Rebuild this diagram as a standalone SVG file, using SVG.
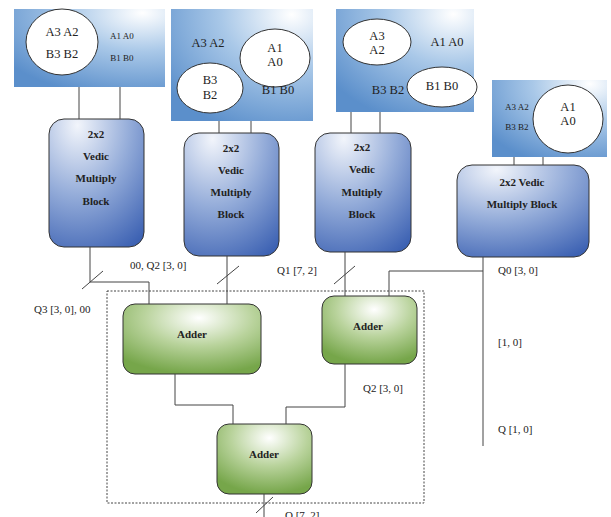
<svg xmlns="http://www.w3.org/2000/svg" width="611" height="517" viewBox="0 0 611 517">
  <defs>
    <radialGradient id="panelFill" cx="0.85" cy="0.05" r="1.1">
      <stop offset="0" stop-color="#ffffff"/>
      <stop offset="0.45" stop-color="#a9c8e8"/>
      <stop offset="1" stop-color="#5b8fcb"/>
    </radialGradient>
    <radialGradient id="blockFill" cx="0.3" cy="0.05" r="1.1">
      <stop offset="0" stop-color="#f2f5fb"/>
      <stop offset="0.5" stop-color="#94acd9"/>
      <stop offset="1" stop-color="#3d62b3"/>
    </radialGradient>
    <radialGradient id="adderFill" cx="0.55" cy="0.2" r="0.8">
      <stop offset="0" stop-color="#ffffff"/>
      <stop offset="0.5" stop-color="#b9d39c"/>
      <stop offset="1" stop-color="#76a64a"/>
    </radialGradient>
  </defs>
  <style>
    .panel { fill: url(#panelFill); }
    .oval { fill: #ffffff; stroke: #333333; stroke-width: 1; }
    .block { fill: url(#blockFill); stroke: #333333; stroke-width: 1; }
    .adder { fill: url(#adderFill); stroke: #333333; stroke-width: 1; }
    .wire { fill: none; stroke: #444444; stroke-width: 1; }
    .frame { fill: none; stroke: #444444; stroke-width: 1; stroke-dasharray: 2 1.5; }
    text { font-family: "Liberation Serif", "Times New Roman", serif; fill: #222222; text-anchor: middle; }
    .big { font-size: 12.5px; }
    .small { font-size: 9px; }
    .bold { font-size: 11px; font-weight: bold; }
    .lbl { font-size: 11px; text-anchor: start; }
  </style>

  <!-- input panels -->
  <g id="panel1">
    <rect class="panel" x="14" y="9" width="151" height="78"/>
    <ellipse class="oval" cx="62" cy="42" rx="36" ry="33"/>
    <text class="big" x="62" y="36">A3 A2</text>
    <text class="big" x="62" y="58">B3 B2</text>
    <text class="small" x="122" y="39">A1 A0</text>
    <text class="small" x="122" y="61">B1 B0</text>
  </g>
  <g id="panel2">
    <rect class="panel" x="171" y="9" width="142" height="112"/>
    <text class="big" x="208" y="47">A3 A2</text>
    <ellipse class="oval" cx="275" cy="58" rx="35" ry="29"/>
    <text class="big" x="275" y="52">A1</text>
    <text class="big" x="275" y="66">A0</text>
    <ellipse class="oval" cx="210" cy="88" rx="33" ry="25"/>
    <text class="big" x="210" y="84">B3</text>
    <text class="big" x="210" y="99">B2</text>
    <text class="big" x="278" y="94">B1 B0</text>
  </g>
  <g id="panel3">
    <rect class="panel" x="336" y="9" width="138" height="103"/>
    <ellipse class="oval" cx="377" cy="42" rx="34" ry="23"/>
    <text class="big" x="377" y="40">A3</text>
    <text class="big" x="377" y="54">A2</text>
    <text class="big" x="447" y="46">A1 A0</text>
    <ellipse class="oval" cx="442" cy="87" rx="35" ry="20"/>
    <text class="big" x="442" y="90">B1 B0</text>
    <text class="big" x="388" y="94">B3 B2</text>
  </g>
  <g id="panel4">
    <rect class="panel" x="492" y="80" width="115" height="77"/>
    <ellipse class="oval" cx="568" cy="119" rx="35" ry="34"/>
    <text class="big" x="568" y="111">A1</text>
    <text class="big" x="568" y="125">A0</text>
    <text class="small" x="517" y="110">A3 A2</text>
    <text class="small" x="517" y="130">B3 B2</text>
  </g>

  <!-- multiplier blocks -->
  <g id="mult1">
    <rect class="block" x="49" y="119" width="95" height="128" rx="15"/>
    <text class="bold" x="96" y="138">2x2</text>
    <text class="bold" x="96" y="160">Vedic</text>
    <text class="bold" x="96" y="182">Multiply</text>
    <text class="bold" x="96" y="205">Block</text>
  </g>
  <g id="mult2">
    <rect class="block" x="184" y="133" width="95" height="123" rx="15"/>
    <text class="bold" x="231" y="152">2x2</text>
    <text class="bold" x="231" y="174">Vedic</text>
    <text class="bold" x="231" y="196">Multiply</text>
    <text class="bold" x="231" y="218">Block</text>
  </g>
  <g id="mult3">
    <rect class="block" x="315" y="133" width="96" height="119" rx="15"/>
    <text class="bold" x="362" y="151">2x2</text>
    <text class="bold" x="362" y="173">Vedic</text>
    <text class="bold" x="362" y="196">Multiply</text>
    <text class="bold" x="362" y="218">Block</text>
  </g>
  <g id="mult4">
    <rect class="block" x="457" y="165" width="132" height="92" rx="15"/>
    <text class="bold" x="522" y="186">2x2 Vedic</text>
    <text class="bold" x="522" y="208">Multiply Block</text>
  </g>

  <!-- adders -->
  <g id="adder1">
    <rect class="adder" x="123" y="304" width="138" height="70" rx="12"/>
    <text class="bold" x="192" y="338">Adder</text>
  </g>
  <g id="adder2">
    <rect class="adder" x="322" y="296" width="95" height="68" rx="12"/>
    <text class="bold" x="368" y="330">Adder</text>
  </g>
  <g id="adder3">
    <rect class="adder" x="217" y="424" width="95" height="70" rx="12"/>
    <text class="bold" x="264" y="458">Adder</text>
  </g>

  <!-- connectors -->
  <g id="connectors">
    <rect class="frame" x="107" y="291" width="317" height="212"/>
    <path class="wire" d="M79 87V119 M120 87V119"/>
    <path class="wire" d="M219 121V133 M251 121V133"/>
    <path class="wire" d="M351 112V133 M380 112V133"/>
    <path class="wire" d="M514 157V165 M543 157V165"/>
    <path class="wire" d="M90 247V282H149V304 M82 289L103 271"/>
    <path class="wire" d="M227 256V304 M217 284L239 266"/>
    <path class="wire" d="M345 252V296 M334 284L355 266"/>
    <path class="wire" d="M483 257V446 M483 271H389V296"/>
    <path class="wire" d="M175 374V405H233V424"/>
    <path class="wire" d="M345 364V407H286V424"/>
    <path class="wire" d="M264 494V517 M256 513L273 497"/>
  </g>

  <!-- bus labels -->
  <g id="labels">
    <text class="lbl" x="130" y="269">00, Q2 [3, 0]</text>
    <text class="lbl" x="34" y="313">Q3 [3, 0], 00</text>
    <text class="lbl" x="277" y="274">Q1 [7, 2]</text>
    <text class="lbl" x="498" y="274">Q0 [3, 0]</text>
    <text class="lbl" x="498" y="346">[1, 0]</text>
    <text class="lbl" x="363" y="392">Q2 [3, 0]</text>
    <text class="lbl" x="498" y="433">Q [1, 0]</text>
    <text class="lbl" x="285" y="519">Q [7, 2]</text>
  </g>
</svg>
